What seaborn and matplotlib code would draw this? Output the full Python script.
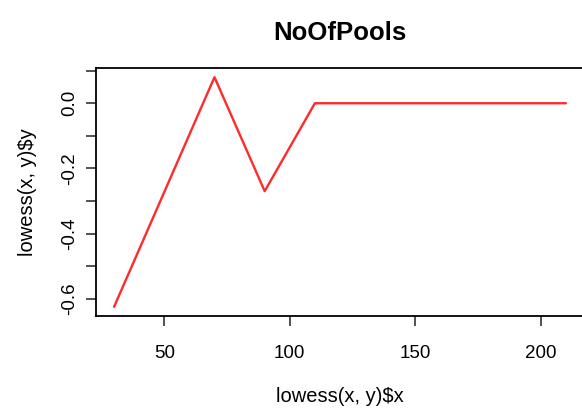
import matplotlib
matplotlib.use("Agg")
import matplotlib.pyplot as plt
import seaborn as sns
import pandas as pd

# lowess-smoothed curve for NoOfPools
lowess_x = [30, 70, 90, 110, 210]
lowess_y = [-0.625, 0.08, -0.27, 0.0, 0.0]
x_ticks = [50, 100, 150, 200]
y_ticks = [0.1, 0.0, -0.1, -0.2, -0.3, -0.4, -0.5, -0.6]
y_tick_labels = ["", "0.0", "", "-0.2", "", "-0.4", "", "-0.6"]

sns.set_style("ticks")
plt.rcParams["font.family"] = ["Liberation Sans", "DejaVu Sans"]
plt.rcParams["text.color"] = "black"
plt.rcParams["axes.labelcolor"] = "black"
plt.rcParams["xtick.color"] = "black"
plt.rcParams["ytick.color"] = "black"

df = pd.DataFrame({"x": lowess_x, "y": lowess_y})

fig = plt.figure(figsize=(5.82, 4.09), dpi=100)
# plot region runs right up to (and just past) the right edge of the figure
ax = fig.add_axes([96 / 582, 1 - 316 / 409, 488 / 582, 248 / 409])
sns.lineplot(data=df, x="x", y="y", ax=ax, color="#ff2a2a", linewidth=1.7,
             sort=False, estimator=None)

xr = max(lowess_x) - min(lowess_x)
yr = max(lowess_y) - min(lowess_y)
ax.set_xlim(min(lowess_x) - 0.04 * xr, max(lowess_x) + 0.04 * xr)
ax.set_ylim(min(lowess_y) - 0.04 * yr, max(lowess_y) + 0.04 * yr)

ax.set_xticks(x_ticks)
ax.set_xticklabels([str(t) for t in x_ticks])
ax.set_yticks(y_ticks)
ax.set_yticklabels(y_tick_labels, rotation=90, va="center")

for s in ax.spines.values():
    s.set_visible(True)
    s.set_color("black")
    s.set_linewidth(1.3)

ax.tick_params(axis="both", direction="out", length=7, width=1.2,
               color="#333333", labelsize=13.5, labelcolor="black")
ax.tick_params(axis="x", pad=14)
ax.tick_params(axis="y", pad=6)

ax.set_xlabel("lowess(x, y)$x", fontsize=14.5, labelpad=18)
ax.set_ylabel("lowess(x, y)$y", fontsize=14.5, labelpad=17)
ax.set_title("NoOfPools", fontsize=18.5, fontweight="bold", pad=20)

fig.savefig("out.png", dpi=100)
